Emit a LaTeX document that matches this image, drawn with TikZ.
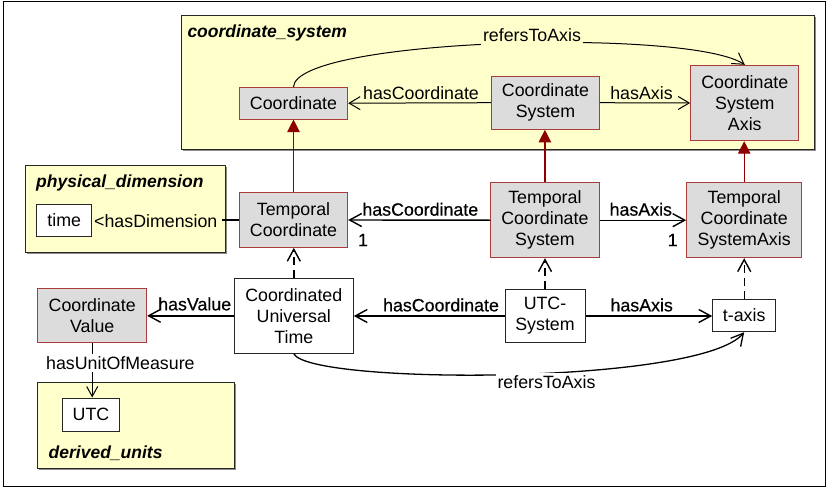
\documentclass[tikz,border=0pt]{standalone}
\usepackage{fontspec}
\setmainfont{Liberation Sans}
\newfontfamily\heavyfont[FakeBold=0.5]{Liberation Sans}
\usetikzlibrary{arrows.meta}
\definecolor{pkgfill}{RGB}{255,255,204}
\definecolor{clsfill}{RGB}{220,220,220}
\definecolor{clsdraw}{RGB}{170,60,60}
\definecolor{genred}{RGB}{140,0,0}
\begin{document}
\begin{tikzpicture}[x=1pt,y=-1pt,
  every node/.style={font=\fontsize{17.8}{21}\selectfont, inner sep=0pt},
  cls/.style={draw=clsdraw, fill=clsfill, line width=1pt, align=center},
  inst/.style={draw=black!85, fill=white, line width=1pt, align=center},
  pkg/.style={draw=black!85, fill=pkgfill, line width=1pt},
  pkgshadow/.style={fill=black!45},
  pkglbl/.style={font=\fontsize{17.5}{21}\selectfont\bfseries\itshape, anchor=west},
  heavylbl/.style={font=\fontsize{17.8}{21}\selectfont\heavyfont},
  assocthin/.style={line width=1pt, -{Straight Barb[length=11pt,width=13pt]}},
  assoc/.style={line width=1.4pt, -{Straight Barb[length=12pt,width=13pt]}},
  unitarrow/.style={line width=1pt, -{Straight Barb[length=10pt,width=11pt]}},
  inherit/.style={draw=genred, line width=1.2pt, -{Triangle[length=12.5pt,width=12.5pt,fill=genred]}},
  instof/.style={line width=1.4pt, dash pattern=on 8pt off 5pt, -{Straight Barb[length=12pt,width=13pt]}}
]
\useasboundingbox (0,0) rectangle (827,487);
\draw[line width=1pt] (3.3,1.7) rectangle (825.5,486.3);

% packages
\fill[pkgshadow] (182.5,17.5) rectangle (815.8,151);
\draw[pkg] (181,16) rectangle (814.3,149.5);
\node[pkglbl] at (187.3,33.3) {coordinate\_system};

\fill[pkgshadow] (26.5,166.5) rectangle (227.2,254.2);
\draw[pkg] (25,165) rectangle (225.7,252.7);
\node[pkglbl] at (36,183) {physical\_dimension};

\fill[pkgshadow] (39.2,384.2) rectangle (235.8,469.8);
\draw[pkg] (37.7,382.7) rectangle (234.3,468.3);
\node[pkglbl] at (48.5,453) {derived\_units};

% class nodes
\node[cls, minimum width=108.4pt, minimum height=31.7pt] (c) at (293.5,103.2) {Coordinate};
\node[cls, minimum width=107.6pt, minimum height=53.3pt] (cs) at (545.5,102.7) {Coordinate\\System};
\node[cls, minimum width=108.3pt, minimum height=75.4pt] (csa) at (744.8,103) {Coordinate\\System\\Axis};
\node[cls, minimum width=108.4pt, minimum height=54.6pt] (tc) at (293.5,220) {Temporal\\Coordinate};
\node[cls, minimum width=108.3pt, minimum height=75pt] (tcs) at (544.9,220.2) {Temporal\\Coordinate\\System};
\node[cls, minimum width=115pt, minimum height=75pt] (tcsa) at (744.2,220.2) {Temporal\\Coordinate\\SystemAxis};
\node[cls, minimum width=109pt, minimum height=54.4pt] (cv) at (92.2,315.5) {Coordinate\\Value};

% instance nodes
\node[inst, minimum width=55pt, minimum height=32pt] (time) at (64.2,220) {time};
\node[inst, minimum width=119pt, minimum height=75pt] (cut) at (293.8,315.8) {Coordinated\\Universal\\Time};
\node[inst, minimum width=80pt, minimum height=53.4pt] (utcs) at (545,316) {UTC-\\System};
\node[inst, minimum width=63pt, minimum height=32.4pt] (taxis) at (744.2,315.5) {t-axis};
\node[inst, minimum width=56.6pt, minimum height=33pt] (utc) at (91,414.5) {UTC};

% coordinate_system associations
\draw[assocthin] (cs.west) -- (c.east);
\node at (421,93.3) {hasCoordinate};
\draw[assocthin] (cs.east) -- (csa.west);
\node at (641.5,93.3) {hasAxis};
\draw[assocthin] (c.north) .. controls (296,38) and (690,28) .. (csa.north);
\node[fill=pkgfill, inner xsep=2pt, inner ysep=3pt] at (532,35) {refersToAxis};

% generalizations
\draw[inherit] (tc.north) -- (c.south);
\draw[inherit] (tcs.north) -- (tcs.north |- cs.south);
\draw[inherit] (tcsa.north) -- (tcsa.north |- csa.south);

% middle row
\draw[assoc] (tcs.west) -- (tc.east);
\node[heavylbl] at (420.3,209.3) {hasCoordinate};
\node[heavylbl] at (363,240) {1};
\draw[assoc] (tcs.east) -- (tcsa.west);
\node[heavylbl] at (640.8,209.3) {hasAxis};
\node[heavylbl] at (672.7,240) {1};
\coordinate (hdend) at (222,220);
\draw[line width=1.4pt] (tc.west) -- (hdend);
\node[anchor=west] at (94,220.7) {<hasDimension};

% instance-of
\draw[instof] (cut.north) -- (cut.north |- tc.south);
\draw[instof] (utcs.north) -- (utcs.north |- tcs.south);
\draw[instof] (taxis.north) -- (taxis.north |- tcsa.south);

% bottom row
\draw[assoc] (utcs.west) -- (utcs.west -| cut.east);
\node[heavylbl] at (441,305) {hasCoordinate};
\draw[assoc] (utcs.east) -- (utcs.east -| taxis.west);
\node[heavylbl] at (641.7,305) {hasAxis};
\draw[assoc] (cut.west) -- (cut.west -| cv.east);
\node[heavylbl] at (194.7,304) {hasValue};

\draw[unitarrow] (cv.south) -- (cv.south |- utc.north);
\node[anchor=west, fill=white, inner xsep=1pt, inner ysep=2pt] at (45,363) {hasUnitOfMeasure};

\draw[line width=1.3pt, -{Straight Barb[length=12pt,width=13pt]}] (cut.south) .. controls (310,385) and (700,385) .. (taxis.south);
\node[fill=white, inner xsep=2pt, inner ysep=2pt] at (546.5,381.7) {refersToAxis};
\end{tikzpicture}
\end{document}
